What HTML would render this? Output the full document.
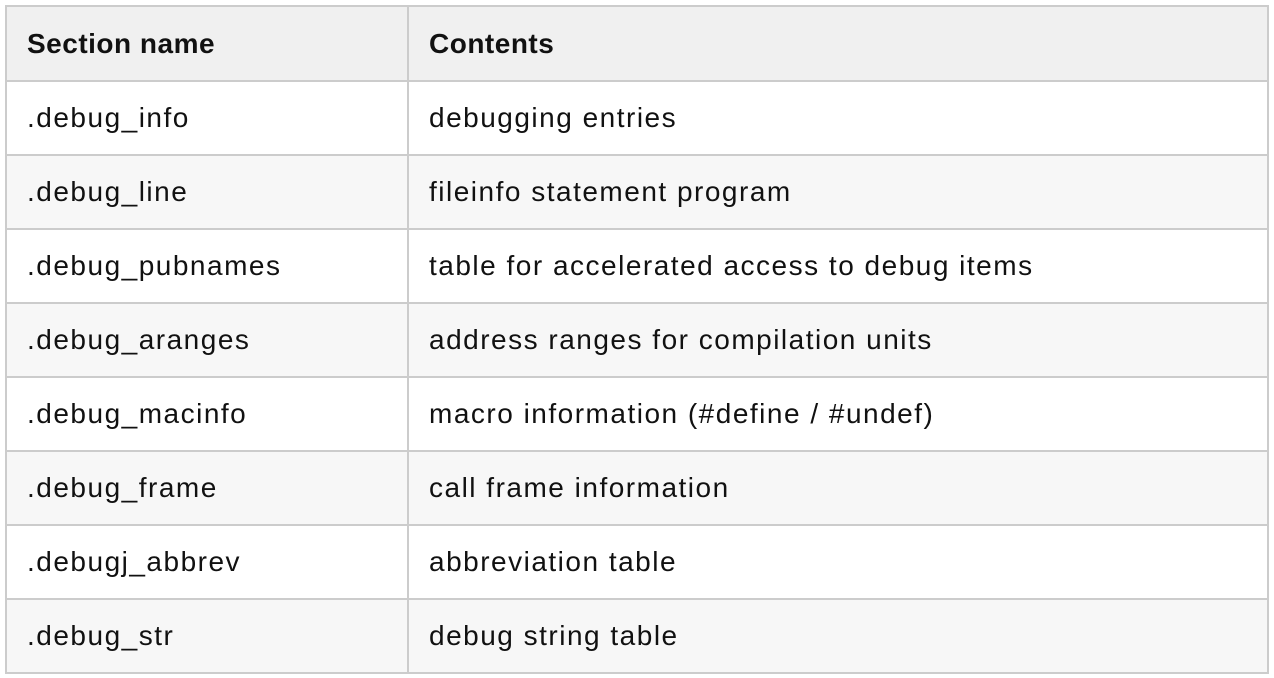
<!DOCTYPE html>
<html><head><style>
body{margin:0;background:#fff;width:1274px;height:678px;overflow:hidden}
table{position:absolute;left:5px;top:5px;width:1264px;border-collapse:collapse;font-family:"Liberation Sans",sans-serif;font-size:28px;letter-spacing:1.5px;color:#111}
td,th{border:2px solid #ccc;height:74px;padding:0 0 0 20px;text-align:left;box-sizing:border-box}
th{background:#f0f0f0;font-weight:bold;height:75px;letter-spacing:0.5px}
td:first-child,th:first-child{width:402px}
</style></head><body>
<table>
<thead><tr><th>Section name</th><th>Contents</th></tr></thead>
<tbody>
<tr><td style="background:#fff">.debug_info</td><td style="background:#fff">debugging entries</td></tr>
<tr><td style="background:#f7f7f7">.debug_line</td><td style="background:#f7f7f7">fileinfo statement program</td></tr>
<tr><td style="background:#fff">.debug_pubnames</td><td style="background:#fff">table for accelerated access to debug items</td></tr>
<tr><td style="background:#f7f7f7">.debug_aranges</td><td style="background:#f7f7f7">address ranges for compilation units</td></tr>
<tr><td style="background:#fff">.debug_macinfo</td><td style="background:#fff">macro information (#define / #undef)</td></tr>
<tr><td style="background:#f7f7f7">.debug_frame</td><td style="background:#f7f7f7">call frame information</td></tr>
<tr><td style="background:#fff">.debugj_abbrev</td><td style="background:#fff">abbreviation table</td></tr>
<tr><td style="background:#f7f7f7">.debug_str</td><td style="background:#f7f7f7">debug string table</td></tr>
</tbody>
</table>
</body></html>
